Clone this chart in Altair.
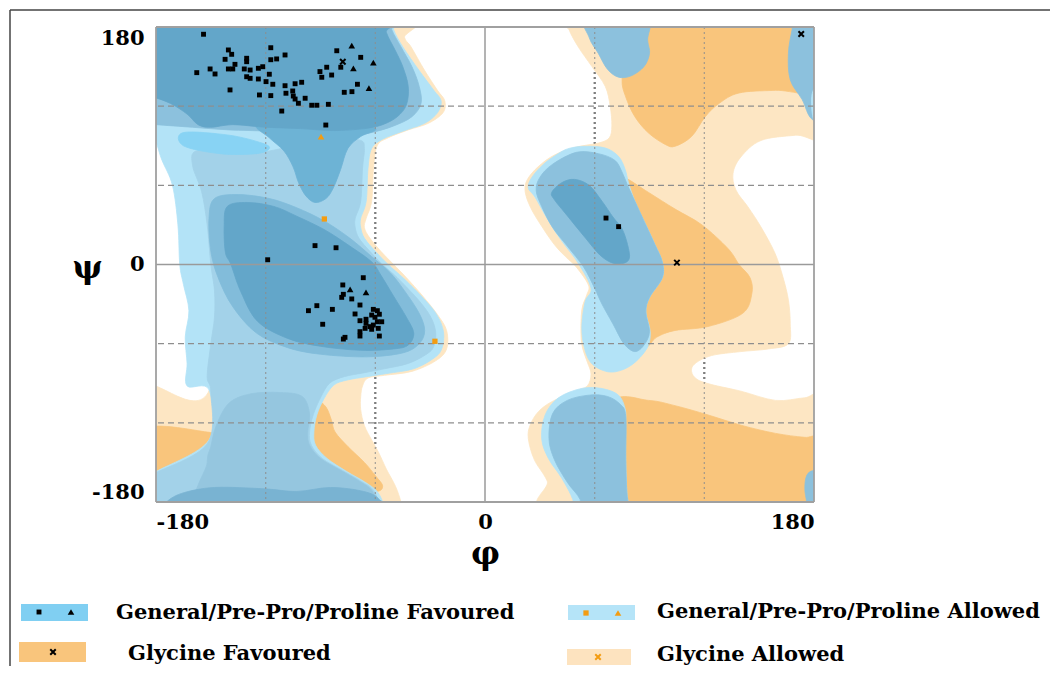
import altair as alt
import pandas as pd

# ---------------- tick values ----------------
PHI_TICKS = [-180, 0, 180]
PSI_TICKS = [-180, 0, 180]
GRID_VALUES = [-120, -60, 60, 120]
ZERO_VALUES = [0]
EDGE_VALUES = [-180, 180]

# ---------------- colours ----------------
BEIGE = "#fde6c3"
ORANGE = "#f9c57c"
CYAN = "#b3e3f7"
BRIGHT = "#88d3f4"
MIDLIGHT = "#a3d2e9"
BUMP = "#95c6df"
MED = "#8cc1dd"
TONGUE = "#6db3d5"
DARK = "#63a6c9"
RIM = "#82bcda"
BOTTOMC = "#79b3d2"

# ---------------- contour regions (phi, psi) in degrees ----------------
L_BEIGE = [(-190,190),(-47,190),(-44,172),(-40.5,165),(-33,147),(-26,132),(-22,124),(-23,115),(-31,107),(-42,102),(-53,96),(-59,90),(-61,73),(-62,48),(-65,35),(-66,28),(-63,20),(-57,10),(-50,0),(-43,-10),(-34,-24),(-26,-38),(-21,-50),(-21,-64),(-27,-73),(-40,-81),(-55,-84),(-64,-86),(-67,-92),(-68,-100),(-68,-110),(-66,-122),(-62,-133),(-58,-143),(-54,-155),(-49,-168),(-46,-180),(-45,-190),(-190,-190),(-190,-94),(-150,-92),(-150,95),(-190,100)]
R_BEIGE = [(44,190),(190,190),(190,100),(170,98),(151,94),(140,81.5),(135.7,69),(137.3,56.4),(143.9,43.6),(151,28.4),(158.6,8.7),(163,-9.5),(166,-27),(167,-45),(166,-60),(155,-64),(140,-66),(124,-69),(115,-75),(113,-81),(116,-87),(124,-91),(140,-96),(159,-103),(175,-101),(190,-100),(190,-190),(41,-190),(34,-164),(27,-148),(23.7,-132),(24.7,-121.7),(29.2,-111.6),(36.5,-104),(49.3,-96),(56,-92),(58,-83),(56,-74),(53.5,-64),(52.5,-53),(53,-34),(55.7,-23),(56.6,-15.6),(50,-2),(44,6),(38,15),(31,29),(25,43),(22,55),(23,64),(29,74),(38,83),(50,89),(62,92),(68,96),(69.4,105),(68.5,120),(65.8,135),(58.5,150),(51,165),(46,178)]
L_OR1 = [(-190,-126),(-152,-127),(-149,-132),(-151,-140),(-170,-160),(-190,-175)]
L_OR2 = [(-92,-103),(-87,-108),(-84,-118),(-82,-127),(-75,-138),(-66,-150),(-60,-160),(-56,-168),(-60,-172),(-75,-168),(-95,-150),(-100,-120),(-98,-105)]
R_OR1 = [(80,190),(190,190),(190,133),(159,132),(139,130),(128,122),(120.5,112),(113,97),(104,89.6),(98.6,91),(89.5,99.6),(82,112),(77,127),(75,140),(78,160)]
R_OR2 = [(72,66),(77,65.5),(89.5,54.6),(104,42),(118.7,30),(133,12),(139,0),(145,-10),(146,-22),(141,-37),(122,-47),(104,-50),(94,-55),(88,-62),(80,-50),(72,-10),(68,30)]
R_OR3 = [(70,-104),(89.6,-103),(104,-107),(122,-114),(140.6,-122),(159,-128),(175,-131),(190,-132),(190,-190),(70,-190),(65,-150)]
L_CYAN = [(-190,190),(-52,190),(-50,178),(-45,165),(-36,147),(-28,132),(-24,124),(-26,115),(-33,107),(-45,101),(-56,95),(-62,88),(-64,73),(-65,48),(-68,35),(-68,28),(-66,20),(-60,10),(-53,0),(-44.5,-10.5),(-33.6,-25.7),(-26.4,-38),(-22.7,-51),(-23.6,-63.6),(-28,-71),(-39,-79),(-53.6,-82.6),(-64.6,-85),(-75.5,-87.6),(-82.7,-91.4),(-88,-101.5),(-92,-114),(-93.6,-126.8),(-92.7,-137),(-86.4,-147),(-75.5,-157),(-66,-164.6),(-59,-172),(-55.5,-182),(-55,-190),(-190,-190),(-190,-165),(-180,-157),(-151,-133),(-151,-95),(-163,-92),(-163,-75),(-164,-55),(-162,-35),(-165,-15),(-167,0),(-168,30),(-171,60),(-177,80),(-182,100),(-190,110)]
L_MIDLIGHT = [(-160,75),(-158,86),(-140,84),(-118,86),(-100,92),(-80,95),(-68,94),(-66,88),(-67,73),(-68,48),(-71,35),(-71,28),(-69,20),(-63,10),(-56,0),(-48,-10),(-37,-26),(-30,-39),(-27,-51),(-28,-62),(-32,-68),(-42,-75),(-55,-79),(-66,-82),(-77,-85),(-85,-90),(-90,-101),(-94,-114),(-96,-127),(-95,-137),(-89,-147),(-78,-156),(-68,-164),(-61,-171),(-58,-182),(-58,-190),(-190,-190),(-190,-165),(-182,-159),(-152,-136),(-150,-97),(-152,-85),(-150,-60),(-148,-40),(-148,-20),(-150,0),(-152,30),(-155,55)]
L_BRIGHT = [(-165,100),(-140,98),(-122,92),(-118,88),(-125,84),(-145,84),(-165,90)]
L_BUMP = [(-152,-190),(-152,-150),(-150,-138),(-147,-122),(-140,-105),(-128,-98),(-112,-97),(-100,-100),(-96,-113),(-97,-127),(-96,-137),(-90,-147),(-79,-156),(-69,-164),(-62,-171),(-59,-182),(-59,-190)]
L_BOTTOM = [(-178,-190),(-175,-181),(-166,-173.5),(-148,-169),(-121,-170),(-103,-172),(-84.5,-169),(-66.4,-172),(-58,-178),(-57,-190)]
L_MED = [(-190,190),(-53,190),(-51,178),(-46,165),(-40,150),(-36,135),(-35,122),(-40,112),(-50,105),(-62,100),(-75,97),(-90,96),(-105,98),(-120,101),(-140,102),(-160,104),(-180,106),(-190,107)]
L_TONGUE = [(-125,106),(-118,96),(-110,86),(-105,74),(-102,62),(-98,52),(-93,47),(-87,50),(-83,58),(-79,72),(-75,88),(-68,97),(-60,103),(-80,108),(-105,110)]
L_DARK = [(-190,190),(-56,190),(-54,176),(-49,162),(-45,150),(-42,135),(-43,121),(-48,112),(-56,106),(-66,103),(-83,101.5),(-101,103),(-120,104),(-138,106),(-150,104),(-157,106),(-163,114),(-172,122),(-182,127),(-190,128)]
L_ALPHA_RIM = [(-148,50),(-135,53),(-118,50),(-103,43),(-88,33),(-74,20),(-62,6),(-52,-6),(-44,-20),(-36,-37),(-33,-50),(-36,-60),(-45,-67),(-65,-70),(-90,-68),(-108,-63),(-125,-52),(-138,-32),(-146,-10),(-150,10),(-151,35)]
L_ALPHA = [(-141,44),(-130,47),(-115.5,44),(-103,36.6),(-88,26.5),(-74,14),(-62,2),(-57,-8),(-50,-24),(-43,-40),(-39,-52),(-42,-61),(-50,-64),(-68,-65),(-90,-62),(-108,-56),(-124.5,-43),(-133.6,-20.6),(-139,0),(-142,9),(-142.7,29)]
R_TOPC = [(55,190),(88,190),(89,170),(90,160),(87,150),(80,143),(73,142),(67,148),(62,160),(57,172)]
R_TOPR = [(170,190),(190,190),(190,108),(179,110),(173.5,125),(167,140),(166,160),(168,178)]
R_TOPR_C = [(180,133),(190,136),(190,98),(183,100),(179,115)]
R_BLOB_C = [(46,88),(54.8,89.6),(65.8,88.3),(73,82),(76.7,72),(78.5,62),(82,48),(88,30),(93,15),(97,2),(97,-10),(90,-25),(88,-36),(90.4,-51),(88.6,-63.6),(80.4,-76),(71.3,-81.3),(64,-80),(57.5,-73.7),(54,-61),(53,-46),(54.8,-28),(58,-18),(51,1),(41.6,18.6),(34.5,33.7),(27.4,51),(23.7,58),(25.6,66),(32,76),(40,84)]
R_BLOB_M = [(50,85),(62,84),(71,79),(75,70),(78,60),(82,48),(88,30),(93,15),(97,2),(97,-10),(90,-25),(88,-36),(90,-51),(87,-61),(82,-66),(76,-60),(70,-45),(64,-30),(60,-18),(54,-2),(45,14),(37,28),(31,44),(28,56),(30,66),(37,76)]
R_BLOB_D = [(36.5,54.6),(42,62),(49,64.5),(57,60),(64,48),(70,36),(75,27),(78,15),(79,5),(76,1),(70,1),(63,7),(55,20),(45,37),(38,49)]
R_LOW_C = [(32.9,-114),(40.2,-101),(53,-93.9),(64,-94),(73,-99),(76.7,-109.6),(77,-122),(77,-147),(77.6,-172),(78.5,-182),(78.5,-190),(49,-190),(48,-178),(42,-162),(34.7,-147),(31,-132)]
R_LOW_M = [(35,-132),(37,-113),(45,-103),(57,-99),(67,-100),(74,-106),(77,-115),(77,-147),(77.6,-172),(78.5,-182),(78.5,-190),(53,-190),(52,-178),(45,-165),(38,-148)]
R_CORNER = [(190,-155),(180,-156),(176,-160),(175,-170),(176,-180),(177,-190),(190,-190)]

REGIONS = [
    (L_BEIGE, BEIGE), (R_BEIGE, BEIGE),
    (L_OR1, ORANGE), (L_OR2, ORANGE), (R_OR1, ORANGE), (R_OR2, ORANGE), (R_OR3, ORANGE),
    (L_CYAN, CYAN), (L_MIDLIGHT, MIDLIGHT), (L_BRIGHT, BRIGHT), (L_BUMP, BUMP), (L_BOTTOM, BOTTOMC),
    (L_MED, MED), (L_TONGUE, TONGUE), (L_DARK, DARK), (L_ALPHA_RIM, RIM), (L_ALPHA, DARK),
    (R_TOPC, MED), (R_TOPR, MED), (R_TOPR_C, CYAN),
    (R_BLOB_C, CYAN), (R_BLOB_M, MED), (R_BLOB_D, DARK),
    (R_LOW_C, CYAN), (R_LOW_M, MED), (R_CORNER, MED),
]

# ---------------- residues (phi, psi) ----------------
FAV_SQUARES = [(-154,174.5),(-140.4,162.6),(-138.6,159.3),(-142.2,155.5),(-136.8,151.7),(-130.4,156.3),(-130.4,153.7),(-117.2,164.3),(-117.2,155.2),(-114,155.8),(-109.4,158.8),(-157.7,145.4),(-150.4,148.2),(-147.7,144.4),(-140.4,148.2),(-138,148.2),(-131.7,148.2),(-128.5,147.4),(-124,148.7),(-121.6,149.9),(-118,144.2),(-130.4,142.3),(-128.5,141.1),(-124,140.6),(-119.8,138.6),(-116.1,136.6),(-139.5,132.3),(-123.4,128.5),(-117.2,128),(-109.4,135.5),(-103.9,137),(-100.3,138.1),(-108.9,129.8),(-105.2,131.5),(-104.9,127.7),(-103.9,125.4),(-102.1,122.2),(-98.4,126),(-94.8,120.7),(-92,120.7),(-85.7,121.4),(-111.2,116.3),(-87.1,105.7),(-90.3,146.2),(-86.6,149.5),(-89.3,141.9),(-83.9,143.6),(-81.1,162),(-78.9,149.5),(-68,157),(-69.8,136.6),(-77,130.5),(-72.8,131),
               (-66.6,-10),(-77.8,-15.5),(-77.5,-22.6),(-78.4,-24.9),(-72.9,-26.1),(-68.4,-30.7),(-92,-31.2),(-96.6,-35),(-83.5,-34),(-71.1,-37.5),(-88.8,-45.3),(-77.5,-56.5),(-76.6,-55.2),(-68.4,-42.6),(-68.4,-50.9),(-65.6,-48.4),(-65.1,-41.5),(-62,-38.3),(-61.1,-34),(-58.9,-35),(-57.8,-37.7),(-56.5,-43.4),(-58.9,-43.4),(-61.1,-45.9),(-62.9,-47.1),(-58.4,-48.4),(-60.2,-40),(-57.8,-54.2),(-62,-49.1),(-65.1,-44.6),(-68.4,-54.2),
               (-118.9,3.6),(-93,14.3),(-81.5,12.7),(66.2,35.2),(73.1,28.7)]
FAV_TRIANGLES = [(-72.9,165.8),(-72,148.7),(-61.1,153),(-63.5,133.6),(-73.8,-18.8),(-65.1,-21.1)]
ALLOWED_SQUARES = [(-87.9,34.5),(-27.4,-58.2)]
ALLOWED_TRIANGLES = [(-89.7,96.9)]
GLY_CROSSES = [(-77.8,153.7),(105,1.4),(173,174.7)]

# ---------------- legend ----------------
LEGEND_LABELS = ["General/Pre-Pro/Proline Favoured", "Glycine Favoured",
                 "General/Pre-Pro/Proline Allowed", "Glycine Allowed"]
LEGEND_COLORS = ["#80cff2", ORANGE, "#b5e4f8", "#fde3bf"]

XS = alt.Scale(domain=[-180, 180], nice=False, zero=False)
YS = alt.Scale(domain=[-180, 180], nice=False, zero=False)
SERIF = "DejaVu Serif"

XAXIS = alt.Axis(values=PHI_TICKS, title="φ", labelFlush=True, ticks=False, domain=False, grid=False,
                 labelExpr="'' + datum.value", labelFont=SERIF, labelFontWeight="bold", labelFontSize=21,
                 labelColor="black", labelPadding=9, titleFont=SERIF, titleFontWeight="bold",
                 titleFontSize=32, titleColor="black", titleY=61, titleBaseline="alphabetic")
YAXIS = alt.Axis(values=PSI_TICKS, title="ψ", labelFlush=True, ticks=False, domain=False, grid=False,
                 labelExpr="'' + datum.value", labelFont=SERIF, labelFontWeight="bold", labelFontSize=21,
                 labelColor="black", labelPadding=12, titleFont=SERIF, titleFontWeight="bold",
                 titleFontSize=32, titleColor="black", titleAngle=0, titleX=-69, titleY=250,
                 titleAlign="center", titleBaseline="alphabetic")

X = alt.X("phi:Q", scale=XS, axis=XAXIS)
Y = alt.Y("psi:Q", scale=YS, axis=YAXIS)


def pts(lst):
    return pd.DataFrame({"phi": [p[0] for p in lst], "psi": [p[1] for p in lst], "i": list(range(len(lst)))})


layers = []
# dark dotted grid underneath (shows darker where the background is white)
layers.append(alt.Chart(pd.DataFrame({"phi": GRID_VALUES})).mark_rule(color="#555", strokeDash=[2, 3], strokeWidth=2).encode(x=X))

for poly, col in REGIONS:
    layers.append(
        alt.Chart(pts(poly)).mark_line(interpolate="cardinal-closed", fill=col, stroke=col,
                                       strokeWidth=0.8, clip=True)
        .encode(x=X, y=Y, order="i:Q")
    )

# grid lines on top
GRIDC = "#8e8e8e"
layers.append(alt.Chart(pd.DataFrame({"phi": GRID_VALUES})).mark_rule(color=GRIDC, strokeDash=[2, 3], strokeWidth=1.3, opacity=0.75).encode(x=X))
layers.append(alt.Chart(pd.DataFrame({"psi": GRID_VALUES})).mark_rule(color=GRIDC, strokeDash=[6, 4], strokeWidth=1.1).encode(y=Y))
layers.append(alt.Chart(pd.DataFrame({"phi": ZERO_VALUES})).mark_rule(color="#9a9a9a", strokeWidth=1.5).encode(x=X))
layers.append(alt.Chart(pd.DataFrame({"psi": ZERO_VALUES})).mark_rule(color="#9a9a9a", strokeWidth=1.5).encode(y=Y))
layers.append(alt.Chart(pd.DataFrame({"phi": EDGE_VALUES})).mark_rule(color="#a0a0a0", strokeWidth=1.8).encode(x=X))
layers.append(alt.Chart(pd.DataFrame({"psi": EDGE_VALUES})).mark_rule(color="#a0a0a0", strokeWidth=1.8).encode(y=Y))

# residues
layers.append(alt.Chart(pts(FAV_SQUARES)).mark_point(shape="square", filled=True, color="black", size=24, opacity=1).encode(x=X, y=Y))
layers.append(alt.Chart(pts(FAV_TRIANGLES)).mark_point(shape="triangle-up", filled=True, color="black", size=44, opacity=1).encode(x=X, y=Y))
layers.append(alt.Chart(pts(ALLOWED_SQUARES)).mark_point(shape="square", filled=True, color="#f39c12", size=28, opacity=1).encode(x=X, y=Y))
layers.append(alt.Chart(pts(ALLOWED_TRIANGLES)).mark_point(shape="triangle-up", filled=True, color="#f39c12", size=44, opacity=1).encode(x=X, y=Y))
CROSS = "M-1,-1L1,1M1,-1L-1,1"
layers.append(alt.Chart(pts(GLY_CROSSES)).mark_point(shape=CROSS, filled=False, color="black", size=30, strokeWidth=2, opacity=1).encode(x=X, y=Y))

# legend (layout in pixels relative to plot origin)
one = pd.DataFrame({"k": [0]})
LEG_RECTS = [(-135, -68, 577, 594), (-137, -70, 615, 635), (412, 479, 578, 593), (411, 475, 622, 638)]
LEG_TEXT_POS = [(-40, 592), (-28, 633), (501, 591), (501, 634)]
for (x1, x2, y1, y2), col in zip(LEG_RECTS, LEGEND_COLORS):
    layers.append(alt.Chart(one).mark_rect(color=col).encode(x=alt.value(x1), x2=alt.value(x2), y=alt.value(y1), y2=alt.value(y2)))
for (tx, ty), lab in zip(LEG_TEXT_POS, LEGEND_LABELS):
    layers.append(alt.Chart(one).mark_text(text=lab, font=SERIF, fontWeight="bold", fontSize=21, align="left",
                                           baseline="alphabetic", color="black").encode(x=alt.value(tx), y=alt.value(ty)))
LEG_MARKS = [("square", "black", -117, 585, 24), ("triangle-up", "black", -85, 585, 44),
             (CROSS, "black", -103, 625, 30), ("square", "#f39c12", 430, 586, 28),
             ("triangle-up", "#f39c12", 462, 586, 44), (CROSS, "#f39c12", 442, 630, 30)]
for shp, col, mx, my, sz in LEG_MARKS:
    layers.append(alt.Chart(one).mark_point(shape=shp, filled=(shp != CROSS), color=col, size=sz,
                                            strokeWidth=2, opacity=1).encode(x=alt.value(mx), y=alt.value(my)))

# outer frame
layers.append(alt.Chart(one).mark_rule(color="#444", strokeWidth=1.5).encode(x=alt.value(-146), y=alt.value(-17), y2=alt.value(647)))
layers.append(alt.Chart(one).mark_rule(color="#444", strokeWidth=1.5).encode(x=alt.value(-146), x2=alt.value(902), y=alt.value(-17)))

chart = alt.layer(*layers).properties(
    width=658, height=475,
    autosize=alt.AutoSizeParams(type="none"),
    padding={"left": 148, "top": 19, "right": 236, "bottom": 164},
    background="white",
).configure_view(stroke=None)

chart.save("out.html", embed_options={"renderer": "svg", "actions": False})
